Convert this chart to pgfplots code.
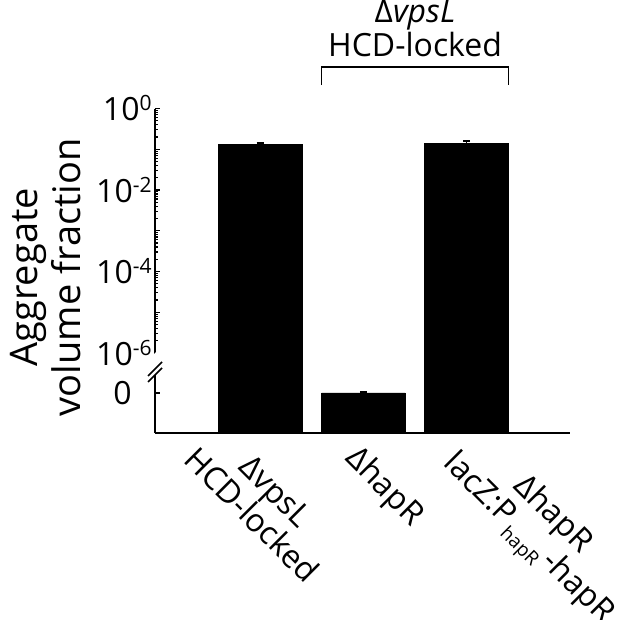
\documentclass[border=0pt]{standalone}
\usepackage{fontspec}
\setmainfont{Open Sans}
\usepackage{pgfplots}
\pgfplotsset{compat=1.18}

% small raised / lowered text that follows \fontsize rather than the class size
\newcommand\sups[1]{\raisebox{5pt}{\fontsize{10.5}{12}\selectfont #1}}
\newcommand\subs[1]{\kern1pt\raisebox{-4.5pt}{\fontsize{9.5}{10}\selectfont #1}\kern2pt}

\begin{document}
\begin{tikzpicture}[font=\fontsize{16}{17}\selectfont]
\begin{semilogyaxis}[
    scale only axis,
    width=207.5pt, height=162.25pt,
    axis lines=left,
    axis line style={-, line width=0.8pt},
    clip=false,
    xmin=-0.017, xmax=4.0,
    ymin=1.09e-8, ymax=1,
    log origin y=infty,
    tick align=inside,
    major tick length=2.5pt, minor tick length=1.5pt,
    every tick/.style={black, line width=0.6pt},
    xtick={2,3},
    xticklabels={ΔhapR, ΔhapR\\lacZ:P\subs{hapR}-hapR},
    major x tick style={draw=none},
    xticklabel style={anchor=north west, rotate=-45, align=center, inner sep=1pt,
                      font=\fontsize{16}{14.5}\selectfont,
                      xshift=1.5pt, yshift={\ticknum==0 ? -3 : 10.5}},
    extra x ticks={1},
    extra x tick labels={ΔvpsL\\HCD-locked},
    extra x tick style={major x tick style={draw=none},
                        xticklabel style={xshift=-20pt, yshift=-5pt}},
    ytick={1.047e-7,1e-6,1e-5,1e-4,1e-3,1e-2,1e-1,1},
    yticklabels={0\rule{10pt}{0pt}, 10\sups{-6}, {}, 10\sups{-4}, {}, 10\sups{-2}, {}, 10\sups{0}},
    yticklabel style={inner sep=1.5pt},
    minor ytick={2e-6,3e-6,4e-6,5e-6,6e-6,7e-6,8e-6,9e-6,
                 2e-5,3e-5,4e-5,5e-5,6e-5,7e-5,8e-5,9e-5,
                 2e-4,3e-4,4e-4,5e-4,6e-4,7e-4,8e-4,9e-4,
                 2e-3,3e-3,4e-3,5e-3,6e-3,7e-3,8e-3,9e-3,
                 2e-2,3e-2,4e-2,5e-2,6e-2,7e-2,8e-2,9e-2,
                 2e-1,3e-1,4e-1,5e-1,6e-1,7e-1,8e-1,9e-1},
    ylabel={Aggregate\\volume fraction},
    ylabel style={at={([xshift=-54.5pt]rel axis cs:0,0.48)}, anchor=center,
                  align=center, font=\fontsize{19}{21.5}\selectfont},
]
\addplot[ybar, bar width=0.81, fill=black, draw=black,
    error bars/.cd, y dir=both, y explicit,
    error bar style={black, line width=0.8pt},
    error mark options={black, line width=0.8pt, mark size=1.75pt, rotate=90}]
    coordinates {(1,0.134) +- (0,0.007) (2,1.047e-7) +- (0,0.04e-7) (3,0.142) +- (0,0.018)};

% axis break on the y axis
\fill[white] (rel axis cs:0,0.185) ++(-3.5pt,-4.5pt) -- ++(7pt,7pt) -- ++(0,3pt) -- ++(-7pt,-7pt) -- cycle;
\draw[line width=0.8pt] (rel axis cs:0,0.185) ++(-3.5pt,-4.5pt) -- ++(7pt,7pt);
\draw[line width=0.8pt] (rel axis cs:0,0.185) ++(-3.5pt,-1.5pt) -- ++(7pt,7pt);

% bracket over the two dvpsL HCD-locked strains
\draw[line width=0.8pt] ([yshift=11.75pt]axis cs:1.595,1) |- ([yshift=20.75pt]axis cs:3.405,1) -- ([yshift=11.75pt]axis cs:3.405,1);
\node[align=center, anchor=south, inner sep=0pt, font=\fontsize{16}{15}\selectfont]
    at ([yshift=25.75pt]axis cs:2.5,1) {Δ\textit{vpsL}\\HCD-locked};
\end{semilogyaxis}
\pgfresetboundingbox
\path[use as bounding box] (-77.5pt,-93.5pt) rectangle (231pt,216.5pt);
\end{tikzpicture}
\end{document}
